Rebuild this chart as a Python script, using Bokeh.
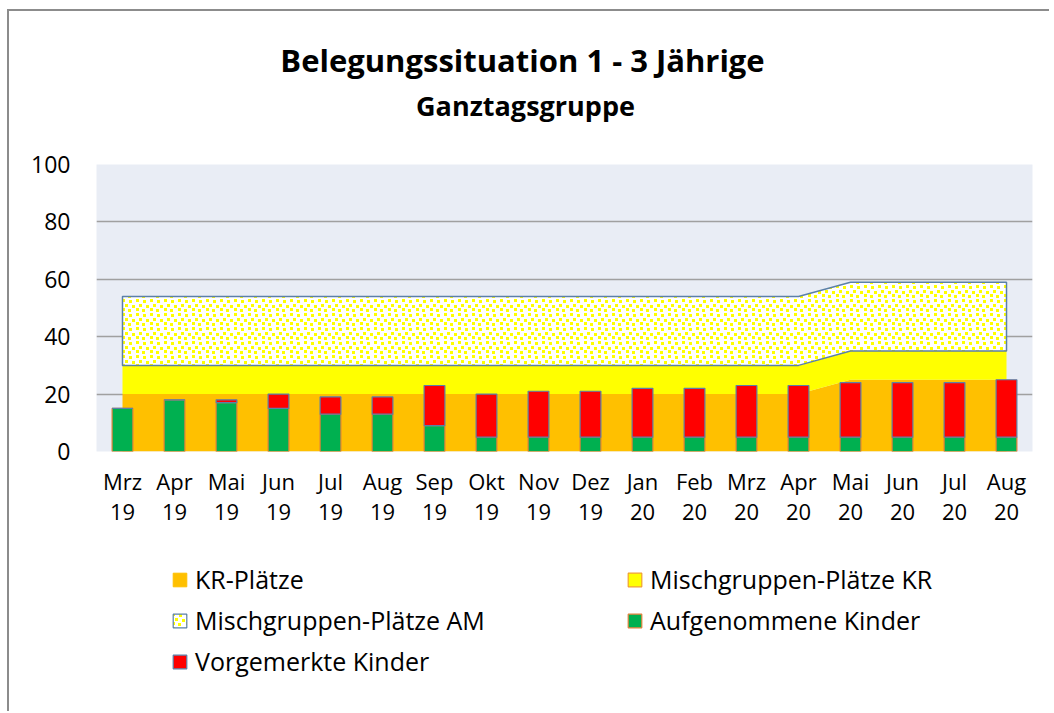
import base64
import struct
import zlib

from bokeh.plotting import figure
from bokeh.layouts import column
from bokeh.models import (Legend, LegendItem, FactorRange, ColumnDataSource,
                          FixedTicker, Label, Range1d, ImageURLTexture)
from bokeh.embed import file_html
from bokeh.resources import INLINE

# ---- data ----
months = ["Mrz\n19", "Apr\n19", "Mai\n19", "Jun\n19", "Jul\n19", "Aug\n19",
          "Sep\n19", "Okt\n19", "Nov\n19", "Dez\n19", "Jan\n20", "Feb\n20",
          "Mrz\n20", "Apr\n20", "Mai\n20", "Jun\n20", "Jul\n20", "Aug\n20"]
kr_plaetze = [20, 20, 20, 20, 20, 20, 20, 20, 20, 20, 20, 20, 20, 20, 25, 25, 25, 25]
mg_plaetze_kr = [10, 10, 10, 10, 10, 10, 10, 10, 10, 10, 10, 10, 10, 10, 10, 10, 10, 10]
mg_plaetze_am = [24, 24, 24, 24, 24, 24, 24, 24, 24, 24, 24, 24, 24, 24, 24, 24, 24, 24]
aufgenommen = [15, 18, 17, 15, 13, 13, 9, 5, 5, 5, 5, 5, 5, 5, 5, 5, 5, 5]
vorgemerkt = [0, 0, 1, 5, 6, 6, 14, 15, 16, 16, 17, 17, 18, 18, 19, 19, 19, 20]
y_ticks = [0, 20, 40, 60, 80, 100]

title_text = "Belegungssituation 1 - 3 Jährige"
subtitle_text = "Ganztagsgruppe"
legend_labels = ["KR-Plätze", "Mischgruppen-Plätze KR", "Mischgruppen-Plätze AM",
                 "Aufgenommene Kinder", "Vorgemerkte Kinder"]

ORANGE = "#FFC000"
YELLOW = "#FFFF00"
GREEN = "#00B050"
RED = "#FF0000"
BLUE_EDGE = "#5B80A8"
BAR_EDGE = "#E0803A"
FONT = "Open Sans"
TXT = "#000000"
W = 1040


# ---- "confetti" fill texture (Excel-like small yellow squares) ----
TILE = 14
SPECKS = [(1, 1), (8, 2), (4, 6), (11, 7), (1, 10), (7, 11)]


def _png_data_uri(size, specks, dot=3):
    rows = []
    for yy in range(size):
        row = bytearray(b"\x00")
        for xx in range(size):
            on = any(sx0 <= xx < sx0 + dot and sy0 <= yy < sy0 + dot
                     for sx0, sy0 in specks)
            row += bytes((255, 255, 0)) if on else bytes((255, 255, 255))
        rows.append(bytes(row))
    raw = b"".join(rows)

    def chunk(tag, data):
        c = struct.pack(">I", len(data)) + tag + data
        return c + struct.pack(">I", zlib.crc32(tag + data) & 0xFFFFFFFF)

    png = (b"\x89PNG\r\n\x1a\n"
           + chunk(b"IHDR", struct.pack(">IIBBBBB", size, size, 8, 2, 0, 0, 0))
           + chunk(b"IDAT", zlib.compress(raw))
           + chunk(b"IEND", b""))
    return "data:image/png;base64," + base64.b64encode(png).decode()


def hatch():
    return dict(hatch_pattern="confetti",
                hatch_extra={"confetti": ImageURLTexture(url=_png_data_uri(TILE, SPECKS))})


# ---------------- title strip ----------------
# (ranges chosen so that one unit = one screen pixel of the aligned frame)
p0 = figure(width=W, height=133, x_range=Range1d(96, 1032), y_range=Range1d(144, 11),
            output_backend="svg", toolbar_location=None, min_border=0,
            x_axis_location=None, y_axis_location=None)
p0.outline_line_color = None
p0.grid.visible = False
p0.add_layout(Label(x=522, y=59, text=title_text, text_align="center",
                    text_baseline="alphabetic", text_font=FONT, text_font_size="31px",
                    text_font_style="bold", text_color=TXT))
p0.add_layout(Label(x=525, y=105, text=subtitle_text, text_align="center",
                    text_baseline="alphabetic", text_font=FONT, text_font_size="27px",
                    text_font_style="bold", text_color=TXT))

# ---------------- main chart ----------------
source = ColumnDataSource(dict(months=months, kr=kr_plaetze, mgkr=mg_plaetze_kr,
                               mgam=mg_plaetze_am, auf=aufgenommen, vor=vorgemerkt))

p = figure(x_range=FactorRange(*months, range_padding=0), y_range=(0, 100),
           width=W, height=397, output_backend="svg", toolbar_location=None,
           min_border_left=87, min_border_right=17,
           min_border_bottom=90, min_border_top=20)

p.background_fill_color = "#E9EDF5"
p.border_fill_color = "white"
p.outline_line_color = None

p.yaxis.ticker = FixedTicker(ticks=y_ticks)
p.yaxis.axis_line_color = None
p.yaxis.major_tick_line_color = None
p.yaxis.minor_tick_line_color = None
p.yaxis.major_label_text_font = FONT
p.yaxis.major_label_text_font_size = "23px"
p.yaxis.major_label_text_color = TXT
p.yaxis.major_label_standoff = 20

p.xaxis.axis_line_color = None
p.xaxis.major_tick_line_color = None
p.xaxis.major_label_text_font = FONT
p.xaxis.major_label_text_font_size = "22px"
p.xaxis.major_label_text_color = TXT
p.xaxis.major_label_text_line_height = 1.0
p.xaxis.major_label_standoff = 8
p.xaxis.major_label_orientation = "horizontal"

p.xgrid.grid_line_color = None
p.ygrid.grid_line_color = "#A0A0A0"
p.ygrid.grid_line_width = 1.5

p.varea_stack(["kr", "mgkr"], x="months", color=[ORANGE, YELLOW], source=source)

lower = [a + b for a, b in zip(kr_plaetze, mg_plaetze_kr)]
upper = [lo + c for lo, c in zip(lower, mg_plaetze_am)]
p.patch(x=months + months[::-1], y=upper + lower[::-1], fill_color="white",
        line_color=BLUE_EDGE, line_width=1.5, **hatch())

p.vbar_stack(["auf", "vor"], x="months", width=0.4, color=[GREEN, RED],
             line_color=[BAR_EDGE, BLUE_EDGE], line_width=1.2, source=source)

# ---------------- legend strip ----------------
p2 = figure(width=W, height=170, x_range=(0, 1), y_range=(0, 1),
            output_backend="svg", toolbar_location=None, min_border=0,
            x_axis_location=None, y_axis_location=None)
p2.outline_line_color = None
p2.grid.visible = False
# legend swatches only: shapes lie outside the visible range
sx, sy = [5, 6, 6], [5, 5, 6]
g_kr = p2.patch(x=sx, y=sy, fill_color=ORANGE, line_color=ORANGE)
g_mgkr = p2.patch(x=sx, y=sy, fill_color=YELLOW, line_color="#F0A030", line_width=1.2)
g_mgam = p2.patch(x=sx, y=sy, fill_color="white", line_color=BLUE_EDGE,
                  line_width=1.2, **hatch())
g_auf = p2.patch(x=sx, y=sy, fill_color=GREEN, line_color=BAR_EDGE, line_width=1.2)
g_vor = p2.patch(x=sx, y=sy, fill_color=RED, line_color=BLUE_EDGE, line_width=1.2)

legend = Legend(items=[
    LegendItem(label=legend_labels[0], renderers=[g_kr]),
    LegendItem(label=legend_labels[1], renderers=[g_mgkr]),
    LegendItem(label=legend_labels[2], renderers=[g_mgam]),
    LegendItem(label=legend_labels[3], renderers=[g_auf]),
    LegendItem(label=legend_labels[4], renderers=[g_vor]),
], orientation="horizontal", ncols=2, location=(75, 33),
    label_text_font=FONT, label_text_font_size="25px", label_text_color=TXT,
    glyph_width=17, glyph_height=17, label_standoff=7, spacing=7,
    label_width=424, padding=0, margin=0, border_line_color=None,
    background_fill_alpha=0)
p2.add_layout(legend)

layout = column(p0, p, p2, spacing=0,
                styles={"margin-left": "7px", "margin-top": "9px",
                        "border-left": "2px solid #8c8c8c",
                        "border-top": "2px solid #8c8c8c"})

open("out.html", "w").write(file_html(layout, INLINE))
